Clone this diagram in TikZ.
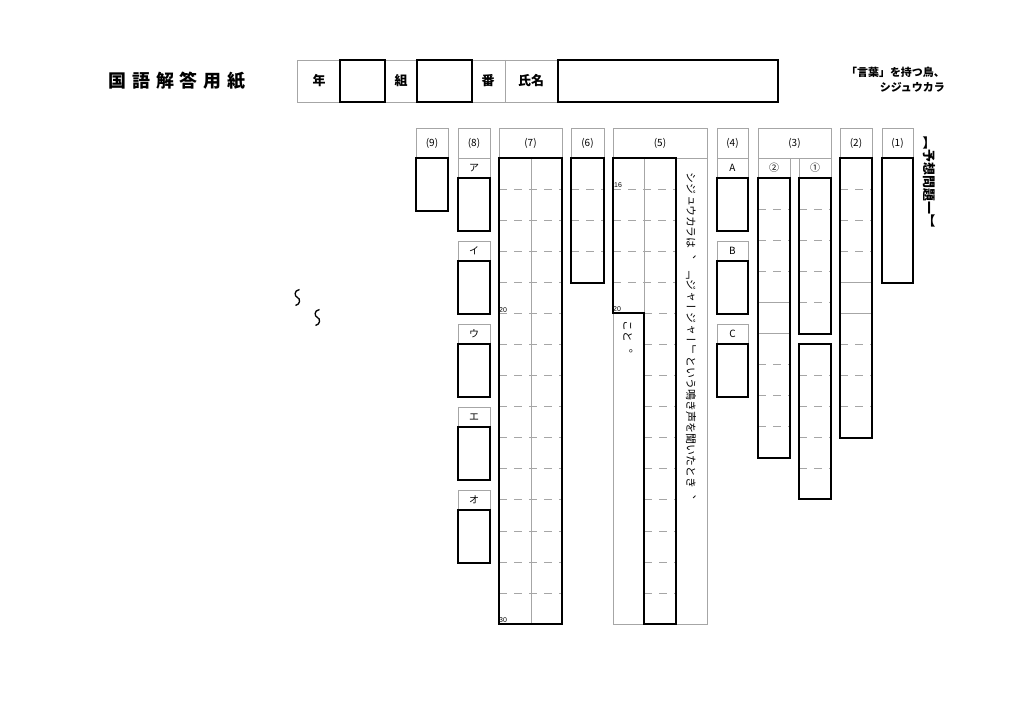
\documentclass[tikz,border=0pt]{standalone}
\usepackage{fontspec}
\setmainfont{Liberation Sans}
\newfontfamily\jp{Noto Sans CJK JP}
\newfontfamily\vjp[Vertical=RotatedGlyphs]{Noto Sans CJK JP}
\begin{document}
\begin{tikzpicture}[x=1bp,y=-1bp,
  g/.style={draw=black!35,line width=0.6bp},
  tk/.style={draw=black,line width=1.6bp},
  ds/.style={draw=black!35,line width=0.6bp,dash pattern=on 8bp off 7bp},
  lb/.style={font=\jp\fontsize{10}{10}\selectfont,inner sep=0pt},
  sm/.style={font=\fontsize{7}{7}\selectfont,inner sep=0pt,anchor=west}]
\useasboundingbox (0,0) rectangle (1024,724);
% title
\node[font=\jp\bfseries\fontsize{18}{18}\selectfont,inner sep=0pt] (title) at (177,81) {国\hspace{6bp}語\hspace{6bp}解\hspace{6bp}答\hspace{6bp}用\hspace{6bp}紙};
\draw[g] (297,60) rectangle (778,102);
\foreach \x in {385,472,505} \draw[g] (\x,60) -- (\x,102);
\node[lb,font=\jp\bfseries\fontsize{13}{13}\selectfont] (nen) at (319,81) {年};
\node[lb,font=\jp\bfseries\fontsize{13}{13}\selectfont] (kumi) at (401,81) {組};
\node[lb,font=\jp\bfseries\fontsize{13}{13}\selectfont] (ban) at (488,81) {番};
\node[lb,font=\jp\bfseries\fontsize{13}{13}\selectfont] (shimei) at (531,81) {氏名};
\draw[tk] (340,60) rectangle (385,102);
\draw[tk] (417,60) rectangle (472,102);
\draw[tk] (558,60) rectangle (778,102);
\node[lb,font=\jp\bfseries\fontsize{11}{11}\selectfont,anchor=east] (t1) at (945,72) {「言葉」を持つ鳥、};
\node[lb,font=\jp\bfseries\fontsize{11}{11}\selectfont,anchor=east] (t2) at (945,87) {シジュウカラ};
\node[lb,font=\vjp\bfseries\fontsize{13}{13}\selectfont] (yoso) at (929,182) {\rotatebox{-90}{【予想問題一】}};
% headers
\foreach \a/\b/\t in {416/448/(9),458/490/(8),499/562/(7),571/604/(6),613/707/(5),717/748/(4),758/831/(3),840/872/(2),882/913/(1)}{
  \draw[g] (\a,128) rectangle (\b,158);
  \node[lb] at ({(\a+\b)/2},143) {\t};}
% (9)
\draw[tk] (416,158) rectangle (448,211);
% (8)
\foreach \y/\t in {158/ア,241/イ,324/ウ,407/エ,490/オ}{
  \draw[g] (458,\y) rectangle (490,\y+20);
  \node[lb] at (474,\y+10) {\t};
  \draw[tk] (458,\y+20) rectangle (490,\y+73);}
% (4)
\foreach \y/\t in {158/A,241/B,324/C}{
  \draw[g] (717,\y) rectangle (748,\y+20);
  \node[lb] at (732.5,\y+10) {\t};
  \draw[tk] (717,\y+20) rectangle (748,\y+73);}
% (7)
\draw[g] (531,158) -- (531,624);
\foreach \k in {1,...,14} \draw[ds] (499,158+31.07*\k) -- (562,158+31.07*\k);
\draw[tk] (499,158) rectangle (562,624);
\node[sm] at (499,310) {20};
\node[sm] at (499,620) {30};
% (6)
\foreach \k in {1,2,3} \draw[ds] (571,158+31*\k) -- (604,158+31*\k);
\draw[tk] (571,158) rectangle (604,283);
% (5)
\draw[g] (613,158) rectangle (707,624);
\draw[g] (644,158) -- (644,624);
\foreach \k in {1,...,4} \draw[ds] (613,158+31*\k) -- (676,158+31*\k);
\foreach \k in {5,...,14} \draw[ds] (644,158+31.07*\k) -- (676,158+31.07*\k);
\draw[tk] (613,158) -- (676,158) -- (676,624) -- (644,624) -- (644,313) -- (613,313) -- cycle;
\node[sm] at (614,185) {16};
\node[sm] at (613,309) {20};
\node[lb,font=\vjp\fontsize{11}{11}\selectfont,anchor=north] (q5) at (691,172) {\rotatebox{-90}{シジュウカラは、\hspace{9bp}「ジャージャー」という鳴き声を聞いたとき、}};
\node[lb,font=\vjp\fontsize{11}{11}\selectfont,anchor=north] (q5b) at (628,320) {\rotatebox{-90}{こと。}};
% (3)
\draw[g] (758,158) rectangle (790,178); \node[lb] at (774,168) {②};
\draw[g] (799,158) rectangle (831,178); \node[lb] at (815,168) {①};
\foreach \k in {1,2,3} \draw[ds] (758,178+31*\k) -- (790,178+31*\k);
\draw[g] (758,302) -- (790,302); \draw[g] (758,333) -- (790,333);
\foreach \k in {1,2,3} \draw[ds] (758,333+31*\k) -- (790,333+31*\k);
\draw[tk] (758,178) rectangle (790,458);
\foreach \k in {1,...,4} \draw[ds] (799,178+31*\k) -- (831,178+31*\k);
\draw[tk] (799,178) rectangle (831,334);
\foreach \k in {1,...,4} \draw[ds] (799,344+31*\k) -- (831,344+31*\k);
\draw[tk] (799,344) rectangle (831,499);
% (2)
\foreach \k in {1,2,3} \draw[ds] (840,158+31*\k) -- (872,158+31*\k);
\draw[g] (840,282) -- (872,282); \draw[g] (840,313) -- (872,313);
\foreach \k in {1,2,3} \draw[ds] (840,313+31*\k) -- (872,313+31*\k);
\draw[tk] (840,158) rectangle (872,438);
% waves
\foreach \cx/\cy in {774,317.5,856,297.5}
  \draw[line width=1.3bp] (\cx+2,\cy-8) .. controls (\cx-4,\cy-7) and (\cx-3,\cy-1) .. (\cx,\cy) .. controls (\cx+3,\cy+1) and (\cx+3,\cy+7) .. (\cx-2,\cy+8);
% (1)
\draw[tk] (882,158) rectangle (913,283);
\end{tikzpicture}
\end{document}
